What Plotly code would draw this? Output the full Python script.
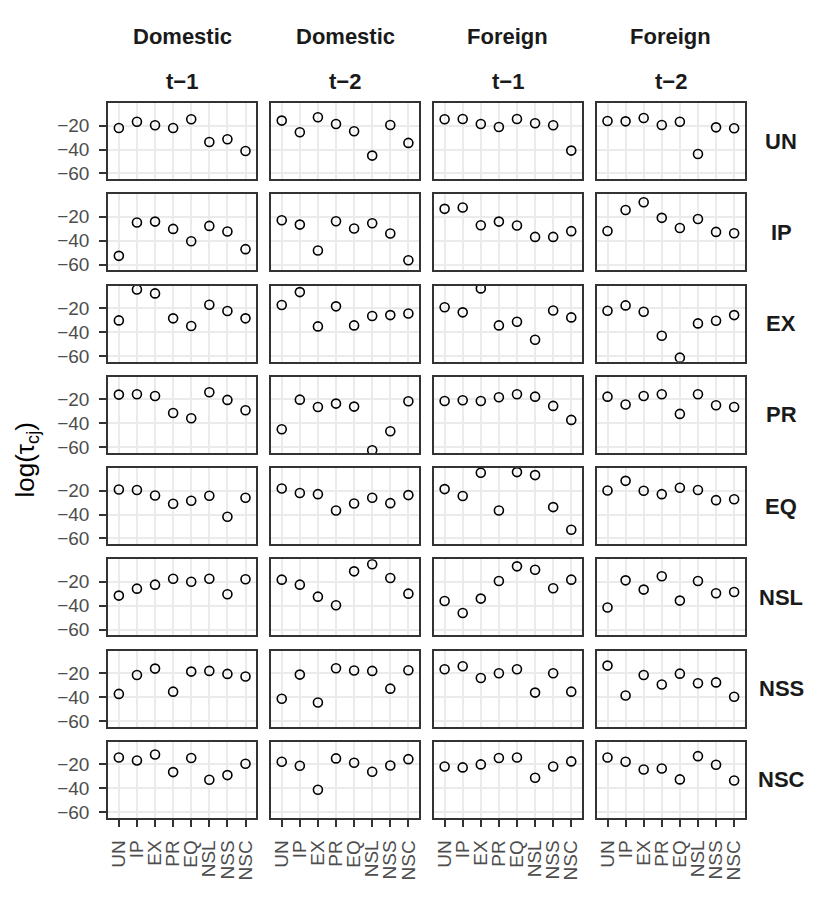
import plotly.graph_objects as go
from plotly.subplots import make_subplots

categories = ["UN", "IP", "EX", "PR", "EQ", "NSL", "NSS", "NSC"]
row_labels = ["UN", "IP", "EX", "PR", "EQ", "NSL", "NSS", "NSC"]
col_origin = ["Domestic", "Domestic", "Foreign", "Foreign"]
col_lag = ["t\u22121", "t\u22122", "t\u22121", "t\u22122"]
y_ticks = [-20, -40, -60]
y_ticktext = ["\u221220", "\u221240", "\u221260"]

# one list per response row (UN ... NSC), values in category order
dom_t1 = [
    [-22.0, -16.8, -19.8, -22.0, -14.8, -33.7, -31.5, -41.2],
    [-52.6, -24.8, -24.0, -30.1, -40.4, -27.6, -32.3, -47.0],
    [-30.3, -4.5, -7.8, -28.6, -35.0, -17.3, -22.5, -28.6],
    [-16.1, -15.8, -17.2, -31.4, -35.8, -14.1, -20.5, -29.1],
    [-19.1, -19.6, -24.1, -31.0, -28.5, -24.4, -41.9, -26.0],
    [-31.5, -25.7, -22.4, -17.4, -19.9, -17.4, -30.4, -17.9],
    [-37.4, -21.6, -16.3, -35.5, -18.8, -18.2, -20.7, -22.9],
    [-14.3, -16.8, -11.8, -26.5, -14.8, -32.9, -29.0, -19.6],
]
dom_t2 = [
    [-15.9, -25.6, -13.1, -18.7, -24.8, -45.1, -19.5, -34.5],
    [-22.9, -26.5, -48.1, -23.7, -29.8, -25.4, -34.0, -56.2],
    [-17.5, -6.7, -35.3, -18.6, -34.5, -26.7, -25.9, -24.5],
    [-45.0, -20.3, -26.4, -23.6, -26.1, -62.5, -46.6, -21.6],
    [-18.3, -22.1, -23.0, -36.6, -30.8, -26.0, -30.5, -23.8],
    [-18.2, -22.4, -32.4, -39.6, -11.3, -5.4, -16.8, -29.9],
    [-41.5, -21.3, -44.6, -16.0, -17.9, -18.2, -33.0, -17.7],
    [-17.9, -21.2, -41.2, -15.1, -18.7, -26.2, -21.0, -15.7],
]
for_t1 = [
    [-14.8, -14.5, -18.7, -21.2, -14.5, -18.1, -19.8, -40.9],
    [-13.4, -12.3, -27.0, -24.0, -27.3, -36.8, -36.8, -32.0],
    [-19.3, -23.6, -3.6, -34.5, -31.4, -46.4, -22.0, -27.8],
    [-21.4, -20.8, -21.4, -18.3, -15.8, -17.8, -25.5, -37.2],
    [-18.8, -24.6, -5.2, -36.6, -4.6, -7.1, -33.8, -52.7],
    [-36.0, -46.0, -34.0, -19.3, -7.1, -9.9, -25.4, -18.2],
    [-16.8, -14.3, -24.1, -20.2, -16.8, -36.3, -20.2, -35.5],
    [-21.8, -22.6, -20.1, -14.8, -14.3, -31.2, -21.8, -17.6],
]
for_t2 = [
    [-16.2, -16.5, -13.7, -19.5, -16.8, -43.7, -21.5, -22.3],
    [-31.8, -14.3, -7.9, -20.9, -29.3, -21.8, -32.6, -33.7],
    [-22.3, -17.8, -23.1, -43.1, -61.4, -32.8, -30.6, -25.9],
    [-17.8, -24.4, -17.2, -15.8, -32.2, -15.8, -25.0, -26.4],
    [-19.9, -11.9, -20.2, -23.0, -17.7, -19.6, -28.0, -27.2],
    [-41.5, -18.8, -26.5, -15.4, -35.7, -19.3, -29.6, -28.5],
    [-13.8, -38.7, -21.6, -29.6, -20.5, -28.5, -27.8, -39.8],
    [-14.3, -17.9, -24.3, -23.5, -32.6, -13.2, -20.4, -33.5],
]
columns = [dom_t1, dom_t2, for_t1, for_t2]

FONT = "Liberation Sans"
n_rows, n_cols = len(row_labels), len(columns)

fig = make_subplots(rows=n_rows, cols=n_cols,
                    horizontal_spacing=0.0228, vertical_spacing=0.021)

for c, col in enumerate(columns):
    for r, vals in enumerate(col):
        fig.add_trace(go.Scatter(
            x=list(range(len(categories))), y=vals, mode="markers",
            marker=dict(symbol="circle-open", size=9, color="black",
                        line=dict(width=1.6, color="black")),
            text=categories, showlegend=False, hoverinfo="text+y"),
            row=r + 1, col=c + 1)

# axes: ticks and labels only on the outer panels (bottom row / left column)
fig.update_xaxes(
    range=[-0.6, 7.6], tickmode="array",
    tickvals=list(range(len(categories))), ticktext=categories,
    showgrid=True, gridcolor="#ebebeb", gridwidth=1.5,
    showline=True, mirror=True, linecolor="#333333", linewidth=1.5,
    ticks="", ticklen=7, tickwidth=1.5, tickcolor="#333333",
    tickangle=-90, tickfont=dict(family=FONT, size=19, color="#4d4d4d"),
    ticklabelstandoff=6, showticklabels=False, zeroline=False,
    automargin=False)
fig.update_xaxes(showticklabels=True, ticks="outside", row=n_rows)

fig.update_yaxes(
    range=[-64.8, -1.2], tickmode="array", tickvals=y_ticks,
    ticktext=y_ticktext,
    showgrid=True, gridcolor="#ebebeb", gridwidth=1.5,
    showline=True, mirror=True, linecolor="#333333", linewidth=1.5,
    ticks="", ticklen=7, tickwidth=1.5, tickcolor="#333333",
    tickfont=dict(family=FONT, size=19, color="#4d4d4d"),
    ticklabelstandoff=6, showticklabels=False, zeroline=False,
    automargin=False)
fig.update_yaxes(showticklabels=True, ticks="outside", col=1)

annotations = []
for c in range(n_cols):
    dom = fig.layout["xaxis" + ("" if c == 0 else str(c + 1))].domain
    xc = (dom[0] + dom[1]) / 2
    annotations.append(dict(text="<b>%s</b>" % col_origin[c], x=xc, y=1,
                            xref="paper", yref="paper", xanchor="center",
                            yanchor="middle", yshift=67, showarrow=False,
                            font=dict(family=FONT, size=22, color="#1a1a1a")))
    annotations.append(dict(text="<b>%s</b>" % col_lag[c], x=xc, y=1,
                            xref="paper", yref="paper", xanchor="center",
                            yanchor="middle", yshift=22, showarrow=False,
                            font=dict(family=FONT, size=22, color="#1a1a1a")))
for r in range(n_rows):
    idx = r * n_cols + 1
    dom = fig.layout["yaxis" + ("" if idx == 1 else str(idx))].domain
    yc = (dom[0] + dom[1]) / 2
    annotations.append(dict(text="<b>%s</b>" % row_labels[r], x=1, y=yc,
                            xref="paper", yref="paper", xanchor="center",
                            yanchor="middle", xshift=36, showarrow=False,
                            font=dict(family=FONT, size=22, color="#1a1a1a")))
annotations.append(dict(text="log(\u03c4<sub>cj</sub>)", x=0, y=0.5,
                        xref="paper", yref="paper", xanchor="center",
                        yanchor="middle", xshift=-82, textangle=-90,
                        showarrow=False,
                        font=dict(family=FONT, size=26, color="black")))

fig.update_layout(
    width=830, height=923,
    margin=dict(l=108, r=85, t=103, b=105),
    plot_bgcolor="white", paper_bgcolor="white",
    font=dict(family=FONT),
    annotations=annotations)

fig.write_html("out.html", config={"displayModeBar": False},
               post_script="document.body.style.margin='0px';")
